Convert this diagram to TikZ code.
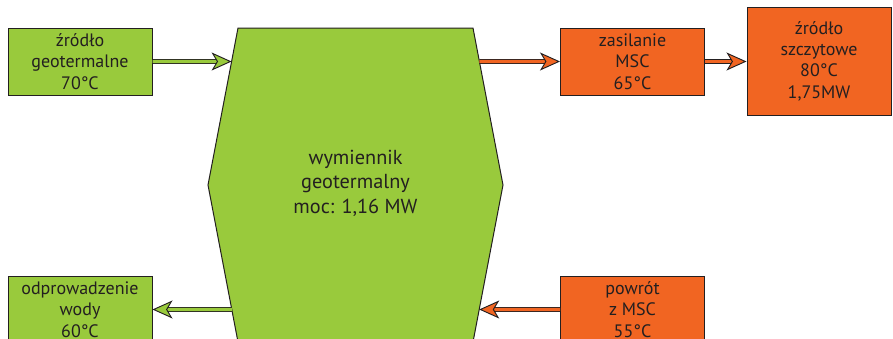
\documentclass[tikz,border=0pt]{standalone}
\usepackage{fontspec}
\setmainfont{PT Sans}
\usetikzlibrary{arrows.meta,calc}
\definecolor{geogreen}{RGB}{153,202,60}
\definecolor{mscorange}{RGB}{241,101,34}
\definecolor{darkline}{RGB}{35,31,32}

\tikzset{
  box/.style={draw=darkline, line width=0.75pt, text=darkline, align=center,
    minimum width=108pt, minimum height=50.25pt, inner sep=0pt,
    font=\fontsize{13.5}{16}\selectfont},
  pipe/.style={draw=darkline, line width=0.7pt, double=#1, double distance=2.3pt,
    -{Stealth[length=15pt, width=13.5pt, inset=4pt, fill=#1, line width=0.7pt]}},
}

\begin{document}
\begin{tikzpicture}[x=0.75pt, y=-0.75pt]
    \useasboundingbox (0,0) rectangle (893,339);
    \clip (0,0) rectangle (893,339);
    % wymiennik
    \coordinate (hexTL) at (238,28);
    \coordinate (hexTR) at (473,28);
    \coordinate (hexR) at (503,185);
    \coordinate (hexBR) at (473,342);
    \coordinate (hexBL) at (238,342);
    \coordinate (hexL) at (208,185);
    \draw[fill=geogreen, draw=darkline, line width=0.75pt]
      (hexTL) -- (hexTR) -- (hexR) -- (hexBR) -- (hexBL) -- (hexL) -- cycle;
    \node (wym) at (355.5,183) [text=darkline, align=center, font=\fontsize{15.2}{18.5}\selectfont]
      {wymiennik\\geotermalny\\moc: 1,16 MW};
    \coordinate (inGeo) at ($(hexTL)!0.2134!(hexL)$);
    \coordinate (outMsc) at ($(hexTR)!0.2134!(hexR)$);
    \coordinate (outGeo) at ($(hexL)!0.793!(hexBL)$);
    \coordinate (inMsc) at ($(hexR)!0.793!(hexBR)$);
    % boxes
    \node (zrodlo) at (80,61.5) [box, fill=geogreen] {źródło\\geotermalne\\70°C};
    \node (odpr) at (80,309.5) [box, fill=geogreen] {odprowadzenie\\wody\\60°C};
    \node (zasil) at (632.5,61.5) [box, fill=mscorange] {zasilanie\\MSC\\65°C};
    \node (powrot) at (632.5,309.5) [box, fill=mscorange] {powrót\\z MSC\\55°C};
    \node (szczyt) at (819,61) [box, fill=mscorange, minimum height=81pt] {źródło\\szczytowe\\80°C\\1,75MW};
    % przeplywy
    \draw[pipe=geogreen] (zrodlo.east) -- (inGeo);
    \draw[pipe=geogreen] (outGeo) -- (odpr.east);
    \draw[pipe=mscorange] (outMsc) -- (zasil.west);
    \draw[pipe=mscorange] (zasil.east) -- (zasil.east -| szczyt.west);
    \draw[pipe=mscorange] (powrot.west) -- (inMsc);
\end{tikzpicture}
\end{document}
